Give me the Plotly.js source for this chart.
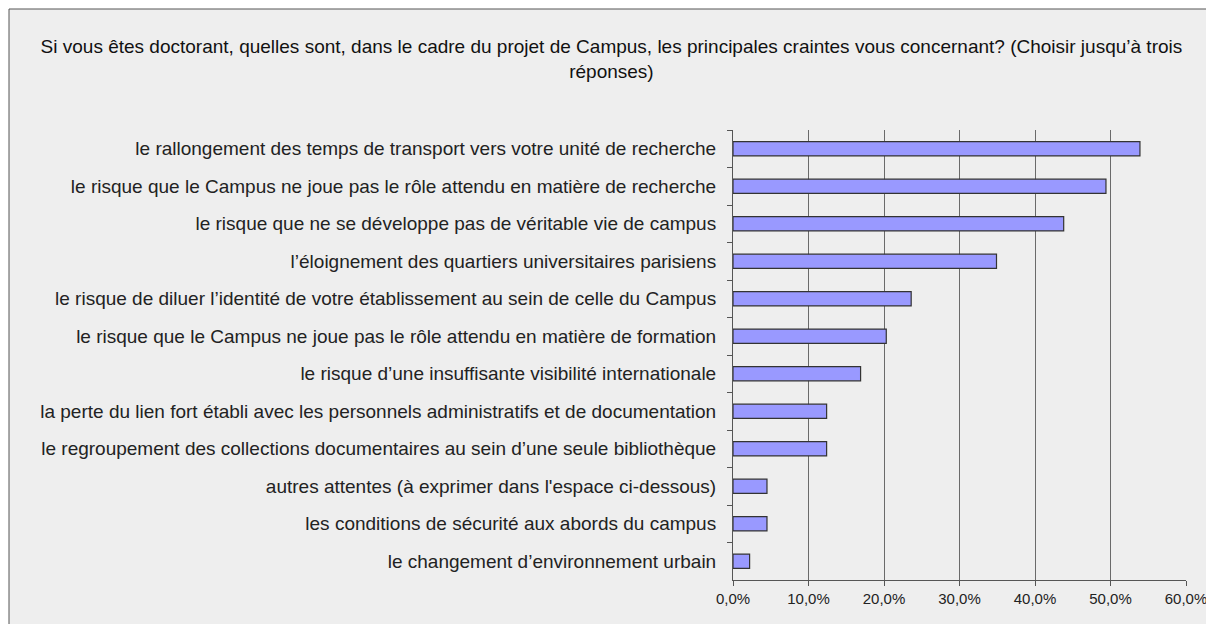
<!DOCTYPE html>
<html>
<head>
<meta charset="utf-8">
<script src="https://cdn.plot.ly/plotly-3.0.1.min.js"></script>
<style>html,body{margin:0;padding:0;background:#fff;}#chart{width:1206px;height:624px;}</style>
</head>
<body>
<div id="chart"></div>
<script>
const categories = [
  "le rallongement des temps de transport vers votre unité de recherche",
  "le risque que le Campus ne joue pas le rôle attendu en matière de recherche",
  "le risque que ne se développe pas de véritable vie de campus",
  "l’éloignement des quartiers universitaires parisiens",
  "le risque de diluer l’identité de votre établissement au sein de celle du Campus",
  "le risque que le Campus ne joue pas le rôle attendu en matière de formation",
  "le risque d’une insuffisante visibilité internationale",
  "la perte du lien fort établi avec les personnels administratifs et de documentation",
  "le regroupement des collections documentaires au sein d’une seule bibliothèque",
  "autres attentes (à exprimer dans l'espace ci-dessous)",
  "les conditions de sécurité aux abords du campus",
  "le changement d’environnement urbain"
];
const values = [53.9, 49.4, 43.8, 34.9, 23.6, 20.3, 16.9, 12.4, 12.4, 4.5, 4.5, 2.2];
const tickValues = [0, 10, 20, 30, 40, 50, 60];
const tickLabels = ["0,0%", "10,0%", "20,0%", "30,0%", "40,0%", "50,0%", "60,0%"];
const titleText = "Si vous êtes doctorant, quelles sont, dans le cadre du projet de Campus, les principales craintes vous concernant? (Choisir jusqu’à trois<br>réponses)";

const trace = {
  type: 'bar',
  orientation: 'h',
  x: values,
  y: categories,
  marker: {color: '#9999FF', line: {color: '#333333', width: 1.2}},
  hoverinfo: 'x+y'
};

const L = 733, T = 130, W = 453, H = 450;
const layout = {
  width: 1206, height: 624,
  margin: {l: L, r: 1206 - L - W, t: T, b: 624 - T - H, pad: 0},
  paper_bgcolor: '#ffffff',
  plot_bgcolor: 'rgba(0,0,0,0)',
  bargap: 0.62,
  showlegend: false,
  font: {family: 'Liberation Sans, Arial, sans-serif', color: '#222222'},
  title: {
    text: titleText,
    font: {family: 'Liberation Sans, Arial, sans-serif', size: 19, color: '#111111'},
    xref: 'container', x: 0.507, xanchor: 'center',
    yref: 'container', y: 1 - 53/624, yanchor: 'top'
  },
  xaxis: {
    range: [0, 60],
    tickvals: tickValues,
    ticktext: tickLabels,
    ticklabeloverflow: 'allow',
    showgrid: true, gridcolor: '#6a6a6a', gridwidth: 1,
    showline: true, linecolor: '#555555', linewidth: 1,
    ticks: 'outside', ticklen: 5, tickcolor: '#555555',
    tickfont: {size: 15, color: '#222222'},
    zeroline: false, fixedrange: true
  },
  yaxis: {
    type: 'category',
    autorange: 'reversed',
    showgrid: false,
    showline: true, linecolor: '#555555', linewidth: 1,
    ticks: 'outside', ticklen: 5, tickcolor: '#555555', tickson: 'boundaries',
    ticklabelstandoff: 12,
    tickfont: {size: 19, color: '#222222'},
    zeroline: false, fixedrange: true
  },
  shapes: [{
    type: 'rect', xref: 'paper', yref: 'paper', layer: 'below',
    x0: (9 - L) / W, x1: (1230 - L) / W,
    y0: (T + H - 640) / H, y1: (T + H - 9) / H,
    fillcolor: '#eeeeee', line: {color: '#555555', width: 1}
  }]
};

Plotly.newPlot('chart', [trace], layout, {displayModeBar: false, responsive: false});
</script>
</body>
</html>
